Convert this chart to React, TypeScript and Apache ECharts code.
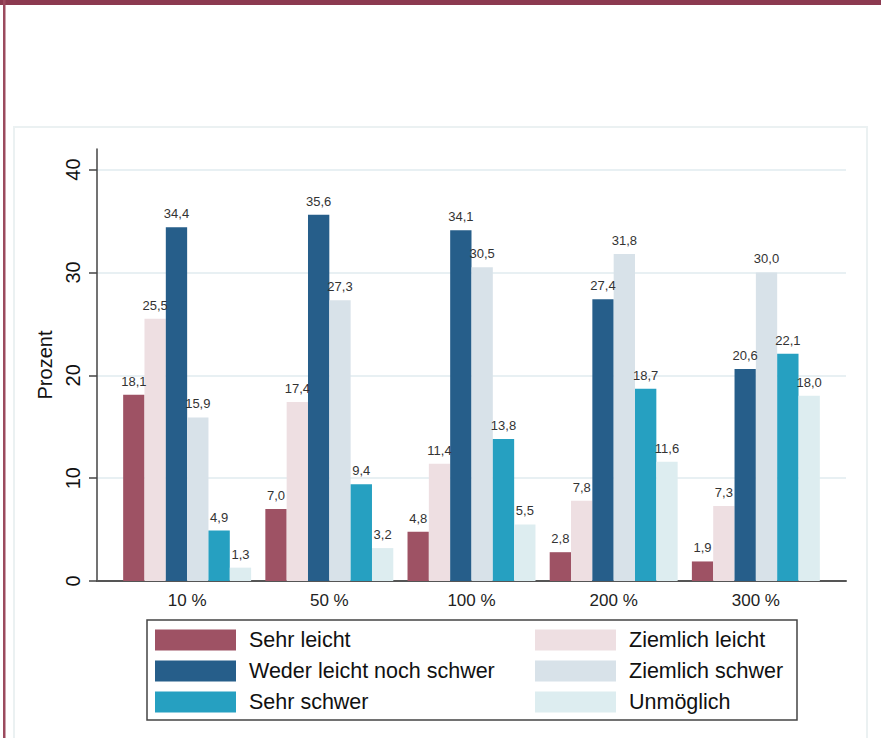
import React, { useEffect, useRef } from "react";
import * as echarts from "echarts";

const categories = ["10 %", "50 %", "100 %", "200 %", "300 %"];
const seriesNames = [
  "Sehr leicht",
  "Ziemlich leicht",
  "Weder leicht noch schwer",
  "Ziemlich schwer",
  "Sehr schwer",
  "Unmöglich",
];
const sehrLeicht = [18.1, 7.0, 4.8, 2.8, 1.9];
const ziemlichLeicht = [25.5, 17.4, 11.4, 7.8, 7.3];
const weder = [34.4, 35.6, 34.1, 27.4, 20.6];
const ziemlichSchwer = [15.9, 27.3, 30.5, 31.8, 30.0];
const sehrSchwer = [4.9, 9.4, 13.8, 18.7, 22.1];
const unmoeglich = [1.3, 3.2, 5.5, 11.6, 18.0];
const yTicks = [0, 10, 20, 30, 40];

const seriesValues = [sehrLeicht, ziemlichLeicht, weder, ziemlichSchwer, sehrSchwer, unmoeglich];
const colors = ["#9E5264", "#EEDFE2", "#265E8A", "#D8E2E9", "#26A0C1", "#DDEDF0"];

const FONT = "'Liberation Sans', Arial, Helvetica, sans-serif";

export default function App() {
  const ref = useRef<HTMLDivElement>(null);
  useEffect(() => {
    if (!ref.current) return;
    const chart = echarts.init(ref.current, null, { renderer: "svg" });
    const legendCommon = {
      orient: "vertical",
      icon: "rect",
      padding: 0,
      itemWidth: 81,
      itemHeight: 21,
      itemGap: 9,
      textStyle: {
        fontFamily: FONT,
        fontSize: 21.5,
        color: "#111",
        padding: [0, 0, 0, 8],
        lineHeight: 21,
      },
      selectedMode: false,
    };
    chart.setOption({
      animation: false,
      backgroundColor: "#fff",
      textStyle: { fontFamily: FONT },
      graphic: [
        { type: "rect", shape: { x: 0, y: 0, width: 881, height: 5 }, style: { fill: "#8C3A50" }, z: 10 },
        { type: "rect", shape: { x: 3, y: 0, width: 2.5, height: 738 }, style: { fill: "#9B4A5E" }, z: 10 },
        { type: "rect", shape: { x: 14, y: 127, width: 853, height: 700 }, style: { fill: "none", stroke: "#EBF1F2", lineWidth: 2 }, z: -1 },
        { type: "rect", shape: { x: 147, y: 620, width: 650, height: 100 }, style: { fill: "none", stroke: "#444", lineWidth: 1.5 }, z: 10 },
      ],
      grid: { left: 97, right: 35, top: 149, bottom: 157, containLabel: false },
      legend: [
        { ...legendCommon, left: 155, top: 629, data: [seriesNames[0], seriesNames[2], seriesNames[4]] },
        { ...legendCommon, left: 535, top: 629, data: [seriesNames[1], seriesNames[3], seriesNames[5]] },
      ],
      xAxis: {
        type: "value",
        min: -0.634,
        max: 4.634,
        axisLine: { show: true, onZero: false, lineStyle: { color: "#555", width: 2 } },
        axisTick: { show: false },
        splitLine: { show: false },
        axisLabel: {
          customValues: categories.map((_, i) => i),
          formatter: (v: number) => categories[Math.round(v)] ?? "",
          fontSize: 17,
          color: "#222",
          margin: 11,
          fontFamily: FONT,
        },
      },
      yAxis: {
        type: "value",
        min: 0,
        max: 42,
        name: "Prozent",
        nameLocation: "middle",
        nameRotate: 90,
        nameGap: 31,
        nameTextStyle: { fontSize: 20, color: "#111", fontFamily: FONT },
        axisLine: { show: true, onZero: false, lineStyle: { color: "#444", width: 1.5 } },
        axisTick: { show: true, length: 8, customValues: yTicks, lineStyle: { color: "#444", width: 1.5 } },
        axisLabel: {
          customValues: yTicks,
          rotate: 90,
          fontSize: 20,
          color: "#111",
          margin: 14,
          fontFamily: FONT,
        },
        splitLine: { show: true, lineStyle: { color: "#E8F0F3", width: 2 } },
      },
      series: seriesNames.map((name, si) => ({
        name,
        type: "bar",
        barGap: "0%",
        barCategoryGap: "10%",
        itemStyle: { color: colors[si] },
        label: {
          show: true,
          position: "top",
          distance: 7,
          fontSize: 13,
          color: "#333",
          fontFamily: FONT,
          formatter: (p: any) => Number(p.value[1]).toFixed(1).replace(".", ","),
        },
        data: seriesValues[si].map((v, i) => [i, v]),
      })),
    });
    return () => chart.dispose();
  }, []);
  return (
    <div
      ref={ref}
      style={{ position: "fixed", left: 0, top: 0, width: 881, height: 738 }}
    />
  );
}
